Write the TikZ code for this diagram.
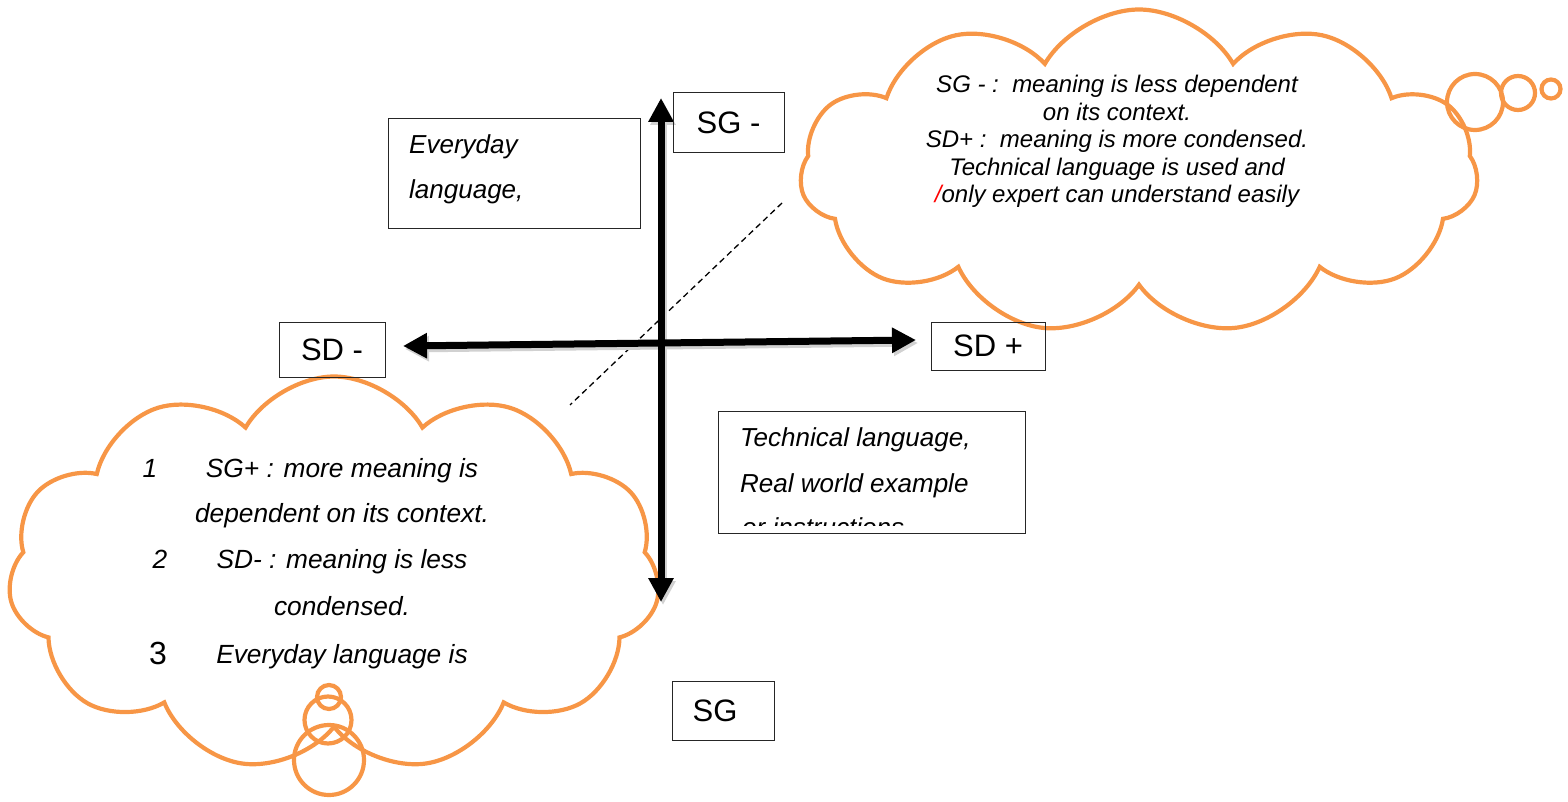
\documentclass[tikz,border=0pt]{standalone}
\usepackage{fontspec}
\setmainfont{Liberation Sans}
\usetikzlibrary{shapes.symbols,arrows.meta}
\definecolor{cloudor}{HTML}{F79646}
\begin{document}
\begin{tikzpicture}[x=1pt,y=-1pt,
  lbl/.style={draw=black!85, line width=1pt, inner sep=0pt},
  lbltext/.style={font=\fontsize{31}{31}\selectfont},
  cloudshape/.style={cloud, draw=cloudor, line width=4.2pt, cloud puffs=11, cloud puff arc=120, cloud ignores aspect, inner sep=0pt},
  puff/.style={draw=cloudor, line width=4.2pt},
  axis/.style={line width=7pt, {Triangle[length=24pt,width=24pt]}-{Triangle[length=24pt,width=24pt]}},
  shadowaxis/.style={axis, draw=black!18, fill=black!18},
  trtext/.style={font=\fontsize{24}{27}\selectfont\itshape, inner sep=0pt, anchor=base},
  bltext/.style={font=\fontsize{26.3}{30}\selectfont\itshape, inner sep=0pt, anchor=base},
  boxtext/.style={font=\fontsize{26}{30}\selectfont\itshape, inner sep=0pt, anchor=base west},
  dashline/.style={dash pattern=on 6pt off 4pt, line width=1.3pt, black}
]
\useasboundingbox (0,0) rectangle (1568,802);

% clouds
\node[cloudshape, minimum width=678pt, minimum height=325pt] (cloudTR) at (1139,172) {};
\node[cloudshape, minimum width=652pt, minimum height=395pt] (cloudBL) at (334,574) {};

% tail bubbles
\draw[puff] (1475,102) circle[radius=28];
\draw[puff] (1518,93) circle[radius=17];
\draw[puff] (1551,89) circle[radius=9.5];
\draw[puff] (329,697) circle[radius=12];
\draw[puff] (328,720) circle[radius=23.5];
\draw[puff] (329,760) circle[radius=35];

% dashed line
\coordinate (dA) at (782,203);
\coordinate (dB) at (570,405);
\draw[dashline] (dA) -- (dB);

% axes
\coordinate (vt) at (661,98);
\coordinate (vb) at (661,602);
\coordinate (hl) at (403,346);
\coordinate (hr) at (916,340);
\draw[shadowaxis, transform canvas={shift={(2pt,-3pt)}}] (hl) -- (hr);
\draw[shadowaxis, transform canvas={shift={(2pt,-3pt)}}] (vb) -- (vt);
\draw[axis] (hl) -- (hr);
\draw[axis] (vb) -- (vt);

% label boxes
\node[lbl, lbltext, minimum width=111pt, minimum height=60pt] (sgm) at (728.5,123) {SG -};
\node[lbl, lbltext, minimum width=106pt, minimum height=55pt] (sdm) at (332,349.5) {SD -};
\node[lbl, lbltext, minimum width=114pt, minimum height=48pt] (sdp) at (988,346) {SD +};
\node[lbl, lbltext, minimum width=102pt, minimum height=59pt] (sgp) at (723,710.5) {SG\rule{16pt}{0pt}};

% everyday box
\node[lbl, minimum width=252pt, minimum height=110pt] (evbox) at (514,174) {};
\node[boxtext] (ev1) at (409,154) {Everyday};
\node[boxtext] (ev2) at (409,199) {language,};

% technical box
\node[lbl, minimum width=307pt, minimum height=122pt] (tebox) at (871.5,472) {};
\node[boxtext] (te1) at (740,446) {Technical language,};
\node[boxtext] (te2) at (740,492) {Real world example};
\begin{scope}
\clip (718,400) rectangle (1025,525);
\node[boxtext] (te3) at (742,536) {or instructions};
\end{scope}

% top-right cloud text
\node[trtext] (t1) at (1117,93) {SG - :\ \ meaning is less dependent};
\node[trtext] (t2) at (1117,121) {on its context.};
\node[trtext] (t3) at (1117,148) {SD+ :\ \ meaning is more condensed.};
\node[trtext] (t4) at (1117,175.5) {Technical language is used and};
\node[trtext] (t5) at (1117,203) {{\color{red}/}only expert can understand easily};

% bottom-left cloud text
\node[bltext] (n1) at (150,477) {1};
\node[bltext] (b1) at (342,477) {SG+ : more meaning is};
\node[bltext] (b2) at (342,522) {dependent on its context.};
\node[bltext] (n2) at (160,568) {2};
\node[bltext] (b3) at (342,568) {SD- : meaning is less};
\node[bltext] (b4) at (342,615) {condensed.};
\node[inner sep=0pt, anchor=base, font=\fontsize{32}{32}\selectfont] (n3) at (158,664) {3};
\node[bltext] (b5) at (342,663) {Everyday language is};
\end{tikzpicture}
\end{document}
